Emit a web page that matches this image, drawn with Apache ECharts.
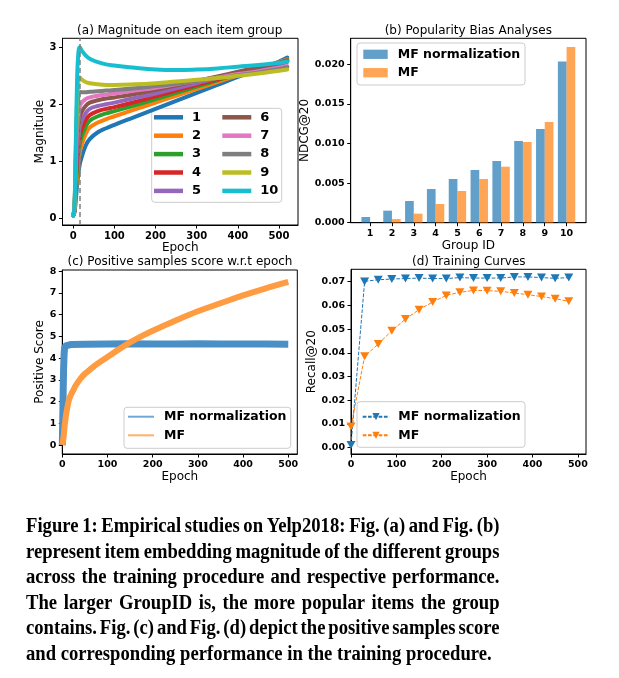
<!DOCTYPE html>
<html><head><meta charset="utf-8">
<script src="https://cdn.jsdelivr.net/npm/echarts@6/dist/echarts.min.js"></script>
<style>html,body{margin:0;padding:0;background:#fff}#c{width:619px;height:678px}</style>
</head><body><div id="c"></div>
<script>
// ---------- (a) magnitude per item group ----------
const magEpochs = [0,3,6,9,12,16,20,30,40,60,80,100,150,200,250,300,350,400,450,500,520];
const magG1  = [0.05,0.10,0.30,0.55,0.75,0.95,1.06,1.27,1.39,1.51,1.58,1.64,1.78,1.92,2.06,2.20,2.34,2.48,2.61,2.75,2.82];
const magG2  = [0.05,0.12,0.40,0.70,0.95,1.15,1.27,1.47,1.59,1.68,1.74,1.79,1.91,2.03,2.15,2.27,2.39,2.51,2.62,2.74,2.79];
const magG3  = [0.05,0.13,0.50,0.85,1.10,1.30,1.42,1.60,1.71,1.79,1.84,1.88,1.98,2.09,2.20,2.31,2.42,2.53,2.63,2.73,2.77];
const magG4  = [0.05,0.14,0.60,1.00,1.25,1.45,1.55,1.72,1.81,1.88,1.92,1.95,2.04,2.14,2.24,2.34,2.44,2.54,2.63,2.72,2.76];
const magG5  = [0.05,0.15,0.70,1.15,1.40,1.60,1.70,1.84,1.92,1.97,2.00,2.03,2.11,2.19,2.28,2.37,2.46,2.54,2.62,2.70,2.74];
const magG6  = [0.05,0.16,0.80,1.30,1.58,1.78,1.86,1.97,2.03,2.07,2.10,2.12,2.18,2.25,2.33,2.41,2.49,2.57,2.65,2.73,2.77];
const magG7  = [0.05,0.17,0.90,1.50,1.78,1.95,2.02,2.09,2.12,2.15,2.17,2.19,2.24,2.29,2.35,2.41,2.47,2.53,2.58,2.64,2.67];
const magG8  = [0.05,0.18,1.00,1.75,2.10,2.22,2.21,2.21,2.22,2.23,2.24,2.25,2.28,2.32,2.36,2.41,2.46,2.51,2.56,2.62,2.65];
const magG9  = [0.05,0.19,1.10,1.95,2.35,2.47,2.44,2.39,2.37,2.35,2.34,2.34,2.35,2.37,2.40,2.43,2.46,2.50,2.54,2.59,2.61];
const magG10 = [0.05,0.20,1.20,2.30,2.85,3.00,2.95,2.86,2.80,2.74,2.70,2.68,2.64,2.61,2.60,2.61,2.63,2.66,2.69,2.73,2.75];
const magGroupNames = ['1','2','3','4','5','6','7','8','9','10'];
const dashedEpoch = 16;
const magXTicks = [0,100,200,300,400,500];
const magYTicks = [0,1,2,3];

// ---------- (b) popularity bias ----------
const groupIds = [1,2,3,4,5,6,7,8,9,10];
const ndcgNorm = [0.00072,0.00152,0.00274,0.00425,0.00552,0.00665,0.00779,0.01032,0.01183,0.02034];
const ndcgMF   = [0.00000,0.00046,0.00114,0.00236,0.00400,0.00552,0.00707,0.01019,0.01272,0.02219];
const ndcgYTicks = [0,0.005,0.010,0.015,0.020];

// ---------- (c) positive samples score ----------
const scoreNormEpochs = [0,1,2,3,4,5,6,8,10,20,50,100,150,200,250,300,350,400,450,500];
const scoreNorm       = [0,1.2,2.6,3.6,4.2,4.45,4.55,4.6,4.62,4.63,4.64,4.65,4.66,4.65,4.65,4.66,4.65,4.65,4.65,4.64];
const scoreMFEpochs = [0,3,5,8,10,15,20,25,30,40,50,60,75,100,125,150,175,200,250,300,350,400,450,500];
const scoreMF       = [0,0.4,0.85,1.35,1.6,2.1,2.35,2.55,2.75,3.05,3.28,3.45,3.7,4.05,4.4,4.72,5.0,5.26,5.72,6.15,6.52,6.88,7.2,7.5];
const scoreXTicks = [0,100,200,300,400,500];
const scoreYTicks = [0,1,2,3,4,5,6,7,8];

// ---------- (d) training curves ----------
const recallEpochs = [0,30,60,90,120,150,180,210,240,270,300,330,360,390,420,450,480];
const recallNorm = [0.0011,0.0701,0.0708,0.0711,0.0713,0.0715,0.0713,0.0713,0.0717,0.0715,0.0715,0.0715,0.0720,0.0720,0.0717,0.0714,0.0717];
const recallMF   = [0.0089,0.0385,0.0437,0.0493,0.0542,0.0582,0.0614,0.0642,0.0655,0.0663,0.0662,0.0659,0.0652,0.0645,0.0637,0.0628,0.0617];
const recallXTicks = [0,100,200,300,400,500];
const recallYTicks = [0,0.01,0.02,0.03,0.04,0.05,0.06,0.07];

// ---------- caption ----------
const captionLines = [
  'Figure 1: Empirical studies on Yelp2018: Fig. (a) and Fig. (b)',
  'represent item embedding magnitude of the different groups',
  'across the training procedure and respective performance.',
  'The larger GroupID is, the more popular items the group',
  'contains. Fig. (c) and Fig. (d) depict the positive samples score',
  'and corresponding performance in the training procedure.'
];

const FONT = 'DejaVu Sans';
const tab10 = ['#1f77b4','#ff7f0e','#2ca02c','#d62728','#9467bd','#8c564b','#e377c2','#7f7f7f','#bcbd22','#17becf'];
const magGroups = [magG1,magG2,magG3,magG4,magG5,magG6,magG7,magG8,magG9,magG10];

function axis(gi, min, max, ticks, fs, name, gap, fmt) {
  return {
    type:'value', gridIndex:gi, min:min, max:max,
    axisLine:{show:true, onZero:false, lineStyle:{color:'#000', width:1}},
    axisTick:{show:true, length:3.5, customValues:ticks, lineStyle:{color:'#000', width:1}},
    axisLabel:{customValues:ticks, margin:6, fontSize:fs, fontWeight:'bold', color:'#000', fontFamily:FONT,
      formatter: fmt || (v => String(v))},
    splitLine:{show:false},
    name:name, nameLocation:'middle', nameGap:gap,
    nameTextStyle:{fontSize:12, color:'#000', fontFamily:FONT}
  };
}
function gridBox(l,t,w,h){return {left:l, top:t, width:w, height:h, show:true, borderColor:'#000', borderWidth:1, backgroundColor:'transparent', containLabel:false};}

const series = [];
// (d) first so that legend icons for 'MF' names come from line+marker series
series.push({
  type:'line', name:'MF normalization', xAxisIndex:3, yAxisIndex:3,
  data: recallEpochs.map((e,i)=>[e, recallNorm[i]]),
  symbol:'triangle', symbolRotate:180, symbolSize:[9,8], showSymbol:true,
  lineStyle:{type:[3.7,1.6], width:1, color:'#1f77b4'}, itemStyle:{color:'#1f77b4'}, z:3
});
series.push({
  type:'line', name:'MF', xAxisIndex:3, yAxisIndex:3,
  data: recallEpochs.map((e,i)=>[e, recallMF[i]]),
  symbol:'triangle', symbolRotate:180, symbolSize:[9,8], showSymbol:true,
  lineStyle:{type:[3.7,1.6], width:1, color:'#ff7f0e'}, itemStyle:{color:'#ff7f0e'}, z:3
});
// (a)
magGroups.forEach((arr, i) => {
  const s = {
    type:'line', name:magGroupNames[i], xAxisIndex:0, yAxisIndex:0,
    data: magEpochs.map((e,j)=>[e, arr[j]]),
    showSymbol:false, symbol:'none', smooth:0.45,
    lineStyle:{width:4, color:tab10[i], cap:'round', join:'round'}, itemStyle:{color:tab10[i]}
  };
  if (i === 9) {
    s.markLine = {silent:true, symbol:['none','none'], label:{show:false},
      lineStyle:{type:[5,3], color:'#808080', width:1.5}, data:[{xAxis:dashedEpoch}]};
  }
  series.push(s);
});
// (b)
series.push({type:'bar', name:'MF normalization', xAxisIndex:1, yAxisIndex:1,
  data: groupIds.map((g,i)=>[g, ndcgNorm[i]]), barWidth:8.7, barGap:'0%',
  itemStyle:{color:'rgba(31,119,180,0.7)'}});
series.push({type:'bar', name:'MF', xAxisIndex:1, yAxisIndex:1,
  data: groupIds.map((g,i)=>[g, ndcgMF[i]]), barWidth:8.7, barGap:'0%',
  itemStyle:{color:'rgba(255,127,14,0.7)'}});
// (c)
series.push({type:'line', name:'MF normalization', xAxisIndex:2, yAxisIndex:2,
  data: scoreNormEpochs.map((e,i)=>[e, scoreNorm[i]]), showSymbol:false, symbol:'none',
  lineStyle:{width:7, color:'#4a8fc6'}, itemStyle:{color:'#4a8fc6'}});
series.push({type:'line', name:'MF', xAxisIndex:2, yAxisIndex:2,
  data: scoreMFEpochs.map((e,i)=>[e, scoreMF[i]]), showSymbol:false, symbol:'none', smooth:0.4,
  lineStyle:{width:6, color:'#ff9b40'}, itemStyle:{color:'#ff9b40'}});

const legText = (fs) => ({fontSize:fs, fontWeight:'bold', color:'#000', fontFamily:FONT, lineHeight:14});
const legends = [
  {data:magGroupNames.slice(0,5), orient:'vertical', left:154, top:110.3, padding:0, itemGap:4.4,
   itemWidth:29, itemHeight:4.5, icon:'rect', selectedMode:false, textStyle:Object.assign(legText(13),{padding:[0,0,0,4]})},
  {data:magGroupNames.slice(5), orient:'vertical', left:222.3, top:110.3, padding:0, itemGap:4.4,
   itemWidth:29, itemHeight:4.5, icon:'rect', selectedMode:false, textStyle:Object.assign(legText(13),{padding:[0,0,0,4]})},
  {data:[{name:'MF normalization', icon:'rect', itemStyle:{color:'rgba(31,119,180,0.7)'}},
         {name:'MF', icon:'rect', itemStyle:{color:'rgba(255,127,14,0.7)'}}],
   orient:'vertical', left:363.3, top:47.3, padding:0, itemGap:4.4, itemWidth:24.4, itemHeight:9.3,
   selectedMode:false, textStyle:Object.assign(legText(12.5),{padding:[0,0,0,5]})},
  {data:[{name:'MF normalization', icon:'rect', itemStyle:{color:'#6fa8d6'}},
         {name:'MF', icon:'rect', itemStyle:{color:'#ffb26b'}}],
   orient:'vertical', left:128, top:409.7, padding:0, itemGap:4.6, itemWidth:26, itemHeight:2,
   selectedMode:false, textStyle:Object.assign(legText(12.5),{padding:[0,0,0,5]})},
  {data:['MF normalization','MF'],
   orient:'vertical', left:361.7, top:409.7, padding:0, itemGap:4.6, itemWidth:26.6, itemHeight:9,
   selectedMode:false, textStyle:Object.assign(legText(12.5),{padding:[0,0,0,4]})}
];

const graphics = [];
function box(x,y,w,h){graphics.push({type:'rect', z:3, shape:{x:x,y:y,width:w,height:h,r:3},
  style:{fill:'rgba(255,255,255,0.8)', stroke:'#cccccc', lineWidth:1}});}
box(151.7,108.3,130,94);
box(357,43,168,42);
box(124,407.3,166.7,41);
box(357,401.7,168,45.6);
function title(text,x,y){graphics.push({type:'text', z:5, x:x, y:y,
  style:{text:text, fill:'#000', font:'12px "DejaVu Sans"', align:'center', verticalAlign:'middle'}});}
title('(a) Magnitude on each item group',179.7,31);
title('(b) Popularity Bias Analyses',468.3,31);
title('(c) Positive samples score w.r.t epoch',180,261.5);
title('(d) Training Curves',468.8,261.5);

// caption, justified word by word
(function(){
  const fs = 20;
  const font = 'bold ' + fs + 'px "Liberation Serif"';
  const ctx = document.createElement('canvas').getContext('2d');
  ctx.font = font;
  const left = 26, rightJ = 499.5, lastRight = 491.7;
  const last = captionLines[captionLines.length-1];
  const sc = (lastRight-left)/ctx.measureText(last).width;
  captionLines.forEach((line, li) => {
    const y = 526.5 + li*25.6;
    const words = line.split(' ');
    const ws = words.map(w => ctx.measureText(w).width*sc);
    let gap;
    if (li < captionLines.length-1) {
      gap = (rightJ-left-ws.reduce((a,b)=>a+b,0))/(words.length-1);
    } else {
      gap = ctx.measureText(' ').width*sc;
    }
    let x = left;
    words.forEach((w,k) => {
      graphics.push({type:'text', x:x, y:y, scaleX:sc, scaleY:1.05,
        style:{text:w, fill:'#000', font:font, align:'left', verticalAlign:'middle'}});
      x += ws[k] + gap;
    });
  });
})();

const chart = echarts.init(document.getElementById('c'), null, {renderer:'canvas'});
chart.setOption({
  animation:false,
  backgroundColor:'#fff',
  grid:[gridBox(62.5,38.3,235.5,186.7), gridBox(350.7,38.3,235.3,184.4), gridBox(62.3,270,235,184), gridBox(351,269.3,235,184.7)],
  xAxis:[
    axis(0,-26,546,magXTicks,10,'Epoch',16.5),
    axis(1,0.11,10.89,groupIds,9.5,'Group ID',15.5),
    axis(2,0,520,scoreXTicks,9.5,'Epoch',16),
    axis(3,0,518,recallXTicks,9.5,'Epoch',16)
  ],
  yAxis:[
    axis(0,-0.118,3.158,magYTicks,10,'Magnitude',16),
    axis(1,0,0.02328,ndcgYTicks,9.5,'NDCG@20',36.5,v=>v.toFixed(3)),
    axis(2,-0.41,8.05,scoreYTicks,9.5,'Positive Score',14.5),
    axis(3,-0.00266,0.0752,recallYTicks,9.5,'Recall@20',30.5,v=>v.toFixed(2))
  ],
  legend:legends,
  graphic:graphics,
  series:series
});
</script></body></html>
